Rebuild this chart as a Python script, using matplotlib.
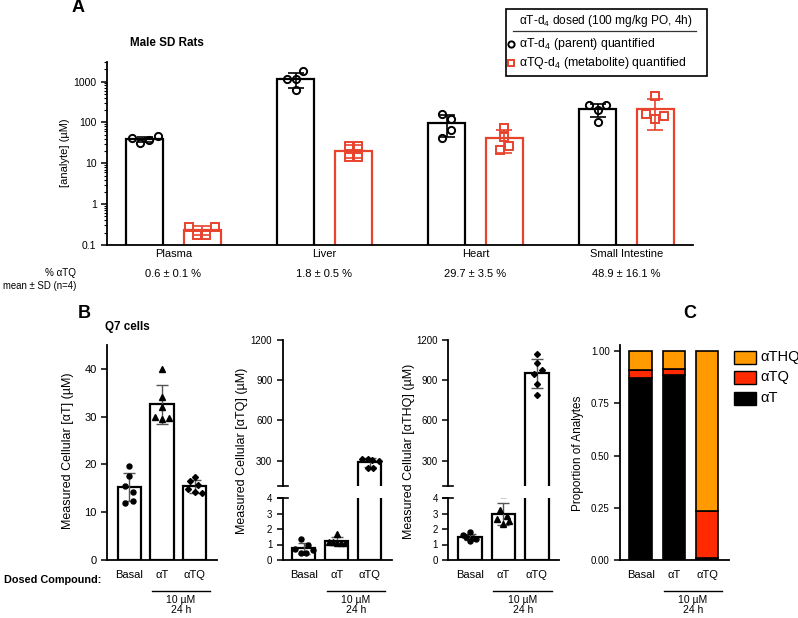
import numpy as np
import matplotlib
matplotlib.use('Agg')
import matplotlib.pyplot as plt
from matplotlib.lines import Line2D
from matplotlib.patches import Rectangle
import matplotlib.ticker as mticker
import matplotlib.transforms as mtransforms

plt.rcParams['font.family'] = ['Liberation Sans', 'DejaVu Sans']
plt.rcParams['mathtext.fontset'] = 'custom'
plt.rcParams['mathtext.rm'] = 'Liberation Sans'
plt.rcParams['mathtext.it'] = 'Liberation Sans:italic'
plt.rcParams['mathtext.bf'] = 'Liberation Sans:bold'

# ---------------- data ----------------
# Panel A (log scale, µM)
tissues = ["Plasma", "Liver", "Heart", "Small Intestine"]
parent_vals = [[41, 32, 38, 46], [1140, 1140, 1770, 630], [162, 123, 66, 41], [259, 204, 262, 105]]
metab_vals = [[0.28, 0.18, 0.18, 0.28], [26.5, 26.5, 14.3, 14.3], [74, 45, 26, 21], [445, 162, 120, 140]]
pct_labels = ["0.6 ± 0.1 %", "1.8 ± 0.5 %", "29.7 ± 3.5 %", "48.9 ± 16.1 %"]

# Panel B (Q7 cells)
cell_groups = ["Basal", "αT", "αTQ"]
at_vals = [[19.6, 17.5, 15.4, 14.3, 12.4, 12.0],
           [40.0, 34.1, 32.0, 29.9, 29.5, 29.8],
           [17.4, 16.5, 15.8, 14.8, 14.2, 14.0]]
atq_vals = [[1.36, 0.95, 0.72, 0.62, 0.45, 0.45],
            [1.69, 1.19, 1.15, 1.10, 1.10, 1.10],
            [315, 310, 305, 300, 243, 245]]
athq_vals = [[1.80, 1.60, 1.50, 1.45, 1.35, 1.25],
             [4.26, 3.25, 2.86, 2.64, 2.49, 2.32],
             [1093, 1025, 975, 943, 875, 793]]

# Panel C (proportions)
prop_at = [0.871, 0.887, 0.010]
prop_atq = [0.038, 0.030, 0.223]
prop_athq = [0.091, 0.083, 0.767]

# ---------------- style / layout ----------------
jitA_parent = [[-0.085, -0.03, 0.03, 0.09], [-0.06, 0, 0.05, 0], [-0.03, 0.03, 0.03, -0.03], [-0.06, 0, 0.055, 0]]
jitA_metab = [[-0.09, -0.035, 0.027, 0.086], [-0.03, 0.03, -0.03, 0.03], [0, 0, 0.03, -0.03], [0, -0.06, 0, 0.06]]
jit_b1 = [[0, 0, -0.12, 0.11, 0.11, -0.12], [0, 0, 0, -0.2, 0, 0.2], [0, -0.15, 0.1, -0.22, 0, 0.2]]
jit_b2 = [[-0.1, 0.13, -0.27, 0.28, -0.09, 0.08], [0, -0.25, -0.12, 0, 0.12, 0.25], [-0.25, -0.07, 0.07, 0.28, -0.07, 0.1]]
jit_b3 = [[0, -0.2, -0.1, 0.1, 0.2, 0], [0, -0.1, 0.1, -0.19, 0.18, 0], [0, 0, 0.15, -0.1, 0, 0]]
markers = ['o', '^', 'D']
msizes = [3.6, 3.8, 3.0]

RED = '#E8432D'
C_RED = '#FF2A00'
C_ORANGE = '#FF9A00'
ERR = '#555555'

W, H = 798, 618
fig = plt.figure(figsize=(W / 100, H / 100), dpi=100)


def rect(x0, x1, yt, yb):
    return [x0 / W, 1 - yb / H, (x1 - x0) / W, (yb - yt) / H]


def fx(x):
    return x / W


def fy(y):
    return 1 - y / H


def style_ax(ax, lw=1.3):
    for s in ['top', 'right']:
        ax.spines[s].set_visible(False)
    for s in ['left', 'bottom']:
        ax.spines[s].set_linewidth(lw)
    ax.tick_params(axis='y', direction='out', length=4, width=1.1)


# ---------------- Panel A ----------------
axA = fig.add_axes(rect(107, 693, 62, 245))
style_ax(axA)
axA.set_yscale('log')
xc = np.arange(len(tissues))
off, bw = 0.19, 0.245
base = 1e-3
for i in range(len(tissues)):
    for vals, jit, col, mk, sgn in [(parent_vals[i], jitA_parent[i], 'black', 'o', -1),
                                    (metab_vals[i], jitA_metab[i], RED, 's', 1)]:
        v = np.array(vals, dtype=float)
        m, sd = v.mean(), v.std(ddof=1)
        x = xc[i] + sgn * off
        axA.bar(x, m - base, bottom=base, width=bw, color='white', edgecolor=col, lw=1.6, zorder=2)
        axA.errorbar(x, m, yerr=[[min(sd, m * 0.95)], [sd]], fmt='none', ecolor=col,
                     elinewidth=1.2, capsize=6, capthick=1.2, zorder=3)
        axA.plot(x + np.array(jit), v, ls='none', marker=mk, mfc='none', mec=col,
                 ms=5.2, mew=1.4, zorder=4)
axA.set_ylim(0.1, 3000)
axA.set_xlim(-0.44, 3.44)
axA.yaxis.set_major_locator(mticker.FixedLocator([0.1, 1, 10, 100, 1000]))
axA.yaxis.set_major_formatter(mticker.FixedFormatter(['0.1', '1', '10', '100', '1000']))
axA.yaxis.set_minor_locator(mticker.LogLocator(base=10, subs=np.arange(2, 10)))
axA.yaxis.set_minor_formatter(mticker.NullFormatter())
axA.tick_params(axis='y', which='minor', length=2, width=0.8)
axA.tick_params(axis='y', labelsize=7.5)
axA.set_xticks(xc)
axA.set_xticklabels(tissues, fontsize=8)
axA.tick_params(axis='x', length=0, pad=3)

trA = mtransforms.blended_transform_factory(axA.transData, fig.transFigure)
for i, lab in enumerate(pct_labels):
    axA.text(xc[i], fy(274), lab, transform=trA, ha='center', va='center', fontsize=8)
fig.text(fx(76), fy(273), "% αTQ", ha='right', va='center', fontsize=7.1)
fig.text(fx(76), fy(286), "mean ± SD (n=4)", ha='right', va='center', fontsize=6.9)
fig.text(fx(65), fy(153), "[analyte] (µM)", rotation=90, ha='center', va='center', fontsize=8)
fig.text(fx(130), fy(43), "Male SD Rats", ha='left', va='center', fontsize=8.4, fontweight='bold')
fig.text(fx(72), fy(8), "A", ha='left', va='center', fontsize=13, fontweight='bold')

# legend box for A
fig.add_artist(Rectangle((fx(506), fy(76)), (707 - 506) / W, (76 - 9) / H, transform=fig.transFigure,
                         fill=False, edgecolor='black', lw=1.2))
fig.text(fx(606), fy(21), r"αT-d$_4$ dosed (100 mg/kg PO, 4h)", ha='center', va='center', fontsize=8.6)
fig.add_artist(Line2D([fx(513), fx(696)], [fy(31), fy(31)], transform=fig.transFigure, color='#333333', lw=0.9))
fig.add_artist(Line2D([fx(511)], [fy(44)], transform=fig.transFigure, ls='none', marker='o',
                      mfc='none', mec='black', ms=4.5, mew=1.4))
fig.text(fx(519), fy(44), r"αT-d$_4$ (parent) quantified", ha='left', va='center', fontsize=8.9)
fig.add_artist(Line2D([fx(511)], [fy(63)], transform=fig.transFigure, ls='none', marker='s',
                      mfc='none', mec=RED, ms=4.5, mew=1.4))
fig.text(fx(519), fy(63), r"αTQ-d$_4$ (metabolite) quantified", ha='left', va='center', fontsize=8.9)


# ---------------- Panel B ----------------
def draw_group(ax, vals_list, jits):
    for i, vals in enumerate(vals_list):
        v = np.array(vals, dtype=float)
        m, sd = v.mean(), v.std(ddof=1)
        ax.bar(i, m, width=0.7, color='white', edgecolor='black', lw=1.6, zorder=2)
        ax.errorbar(i, m, yerr=sd, fmt='none', ecolor=ERR, elinewidth=1, capsize=4, capthick=1, zorder=3)
        ax.plot(i + np.array(jits[i]), v, ls='none', marker=markers[i], color='black',
                ms=msizes[i], zorder=4)


def bottom_labels(ax, xlim):
    ax.set_xlim(*xlim)
    ax.set_xticks(np.arange(3))
    ax.set_xticklabels(cell_groups, fontsize=8)
    ax.tick_params(axis='x', length=0, pad=7)
    tr = mtransforms.blended_transform_factory(ax.transData, fig.transFigure)
    ax.add_line(Line2D([0.7, 2.45], [fy(591), fy(591)], transform=tr, color='black', lw=1.0, clip_on=False))
    ax.text(1.58, fy(600), "10 µM", transform=tr, ha='center', va='center', fontsize=7.5)
    ax.text(1.58, fy(610), "24 h", transform=tr, ha='center', va='center', fontsize=7.5)


axB1 = fig.add_axes(rect(107, 217, 345, 560))
style_ax(axB1)
draw_group(axB1, at_vals, jit_b1)
axB1.set_ylim(0, 45)
axB1.set_yticks([0, 10, 20, 30, 40])
axB1.tick_params(axis='y', labelsize=8)
bottom_labels(axB1, (-0.67, 2.67))
fig.text(fx(68), fy(451), "Measured Cellular [αT] (µM)", rotation=90, ha='center', va='center', fontsize=9)


def broken(x0, x1, vals_list, jits, ylabel, lab_x):
    axU = fig.add_axes(rect(x0, x1, 340, 486))
    axL = fig.add_axes(rect(x0, x1, 498, 560))
    for ax in (axU, axL):
        style_ax(ax)
        draw_group(ax, vals_list, jits)
        ax.set_xlim(-0.64, 2.66)
    axU.spines['bottom'].set_visible(False)
    axU.set_xticks([])
    axU.set_ylim(110, 1200)
    axU.set_yticks([300, 600, 900, 1200])
    axL.set_ylim(0, 4)
    axL.set_yticks([0, 1, 2, 3, 4])
    for ax in (axU, axL):
        ax.tick_params(axis='y', labelsize=7)
    d = 5.0 / (x1 - x0)
    axU.add_line(Line2D([-d, d], [0, 0], transform=axU.transAxes, color='black', lw=1.2, clip_on=False))
    axL.add_line(Line2D([-d, d], [1, 1], transform=axL.transAxes, color='black', lw=1.2, clip_on=False))
    bottom_labels(axL, (-0.64, 2.66))
    fig.text(fx(lab_x), fy(451), ylabel, rotation=90, ha='center', va='center', fontsize=9)


broken(282.7, 391.7, atq_vals, jit_b2, "Measured Cellular [αTQ] (µM)", 242)
broken(448.3, 559, athq_vals, jit_b3, "Measured Cellular [αTHQ] (µM)", 409)

fig.text(fx(78), fy(313), "B", ha='left', va='center', fontsize=13, fontweight='bold')
fig.text(fx(105), fy(327), "Q7 cells", ha='left', va='center', fontsize=8.4, fontweight='bold')
fig.text(fx(101), fy(580), "Dosed Compound:", ha='right', va='center', fontsize=7.8, fontweight='bold')

# ---------------- Panel C ----------------
axC = fig.add_axes(rect(620, 729, 345, 560))
style_ax(axC)
xcC = np.arange(3)
b1 = np.array(prop_at)
b2 = b1 + np.array(prop_atq)
axC.bar(xcC, prop_at, width=0.67, color='black', edgecolor='black', lw=1.2, zorder=2)
axC.bar(xcC, prop_atq, bottom=b1, width=0.67, color=C_RED, edgecolor='black', lw=1.2, zorder=2)
axC.bar(xcC, prop_athq, bottom=b2, width=0.67, color=C_ORANGE, edgecolor='black', lw=1.2, zorder=2)
axC.set_ylim(0, 1.03)
axC.set_yticks([0, 0.25, 0.5, 0.75, 1.0])
axC.set_yticklabels(['0.00', '0.25', '0.50', '0.75', '1.00'])
axC.tick_params(axis='y', labelsize=7)
bottom_labels(axC, (-0.62, 2.66))
fig.text(fx(578), fy(453), "Proportion of Analytes", rotation=90, ha='center', va='center', fontsize=8.5)
fig.text(fx(683), fy(313), "C", ha='left', va='center', fontsize=13, fontweight='bold')

for yy, col, lab in [(357, C_ORANGE, "αTHQ"), (377, C_RED, "αTQ"), (398, 'black', "αT")]:
    fig.add_artist(Rectangle((fx(734), fy(yy + 6.5)), 22 / W, 13 / H, transform=fig.transFigure,
                             facecolor=col, edgecolor='black', lw=1.0))
    fig.text(fx(760), fy(yy), lab, ha='left', va='center', fontsize=10.5)

fig.savefig('out.png', dpi=100)
